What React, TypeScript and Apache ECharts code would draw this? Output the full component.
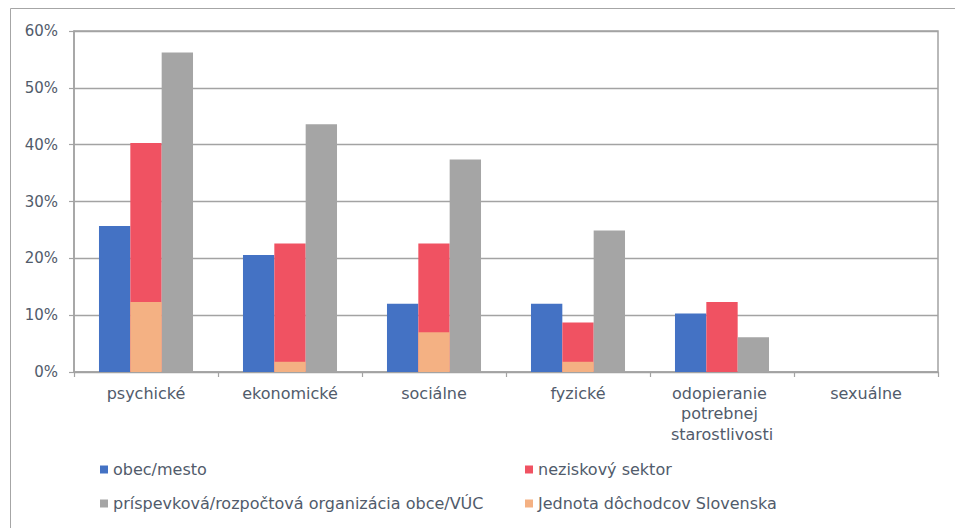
import React, { useEffect, useRef } from "react";
import * as echarts from "echarts";

const categories = [
  "psychické",
  "ekonomické",
  "sociálne",
  "fyzické",
  "odopieranie potrebnej starostlivosti",
  "sexuálne",
];
const obecMesto = [0.257, 0.206, 0.12, 0.12, 0.103, 0];
const neziskovy = [0.403, 0.226, 0.226, 0.087, 0.123, 0];
const prispevkova = [0.562, 0.436, 0.374, 0.249, 0.061, 0];
const jednota = [0.123, 0.018, 0.07, 0.018, 0, 0];
const yTicks = [0, 0.1, 0.2, 0.3, 0.4, 0.5, 0.6];

const FONT = "DejaVu Sans";
const TEXT = "#515b6b";
const LINE = "#a3a3a3";

export default function App() {
  const ref = useRef<HTMLDivElement>(null);
  useEffect(() => {
    if (!ref.current) return;
    const chart = echarts.init(ref.current, undefined, { renderer: "svg" });
    const names = [
      "obec/mesto",
      "neziskový sektor",
      "príspevková/rozpočtová organizácia obce/VÚC",
      "Jednota dôchodcov Slovenska",
    ];
    const colors = ["#4472C4", "#F05262", "#A5A5A5", "#F4B183"];
    const legendCommon = {
      orient: "vertical" as const,
      top: 455,
      itemWidth: 8,
      itemHeight: 8,
      itemGap: 15,
      icon: "rect",
      textStyle: { color: TEXT, fontFamily: FONT, fontSize: 16, lineHeight: 19 },
    };
    const barCommon = {
      type: "bar" as const,
      barGap: "0%",
      barCategoryGap: "34.7%",
    };
    chart.setOption({
      animation: false,
      textStyle: { fontFamily: FONT },
      graphic: [
        {
          type: "rect",
          shape: { x: 10.5, y: 8.5, width: 1000, height: 600 },
          style: { fill: "none", stroke: "#a6a6a6", lineWidth: 1 },
          silent: true,
        },
      ],
      legend: [
        { ...legendCommon, left: 95, data: [names[0], names[2]] },
        { ...legendCommon, left: 520, data: [names[1], names[3]] },
      ],
      grid: {
        left: 74,
        right: 17,
        top: 31,
        bottom: 528 - 372,
        show: true,
        borderColor: LINE,
        borderWidth: 1.5,
        containLabel: false,
      },
      xAxis: [
        {
          type: "category",
          data: categories,
          axisLine: { lineStyle: { color: LINE, width: 1.5 } },
          axisTick: { show: true, length: 5, lineStyle: { color: LINE, width: 1.2 } },
          axisLabel: {
            color: TEXT,
            fontFamily: FONT,
            fontSize: 16,
            margin: 11,
            lineHeight: 20.5,
            width: 135,
            overflow: "break",
            interval: 0,
          },
        },
        {
          type: "category",
          data: categories,
          show: false,
        },
      ],
      yAxis: {
        type: "value",
        min: yTicks[0],
        max: yTicks[yTicks.length - 1],
        interval: 0.1,
        axisLine: { show: true, lineStyle: { color: LINE, width: 1.5 } },
        axisTick: { show: true, length: 5, lineStyle: { color: LINE, width: 1.2 } },
        splitLine: { lineStyle: { color: LINE, width: 1.3 } },
        axisLabel: {
          color: TEXT,
          fontFamily: FONT,
          fontSize: 15,
          margin: 16,
          formatter: (v: number) => Math.round(v * 100) + "%",
        },
      },
      series: [
        { ...barCommon, name: names[0], data: obecMesto, xAxisIndex: 0, itemStyle: { color: colors[0] } },
        { ...barCommon, name: names[1], data: neziskovy, xAxisIndex: 0, itemStyle: { color: colors[1] } },
        { ...barCommon, name: names[2], data: prispevkova, xAxisIndex: 0, itemStyle: { color: colors[2] } },
        { ...barCommon, name: "_pad1", data: categories.map(() => null), xAxisIndex: 1 },
        { ...barCommon, name: names[3], data: jednota, xAxisIndex: 1, z: 3, itemStyle: { color: colors[3] } },
        { ...barCommon, name: "_pad2", data: categories.map(() => null), xAxisIndex: 1 },
      ],
    });
    return () => chart.dispose();
  }, []);
  return (
    <div
      ref={ref}
      style={{ position: "fixed", left: 0, top: 0, width: 955, height: 528, background: "#fff" }}
    />
  );
}
